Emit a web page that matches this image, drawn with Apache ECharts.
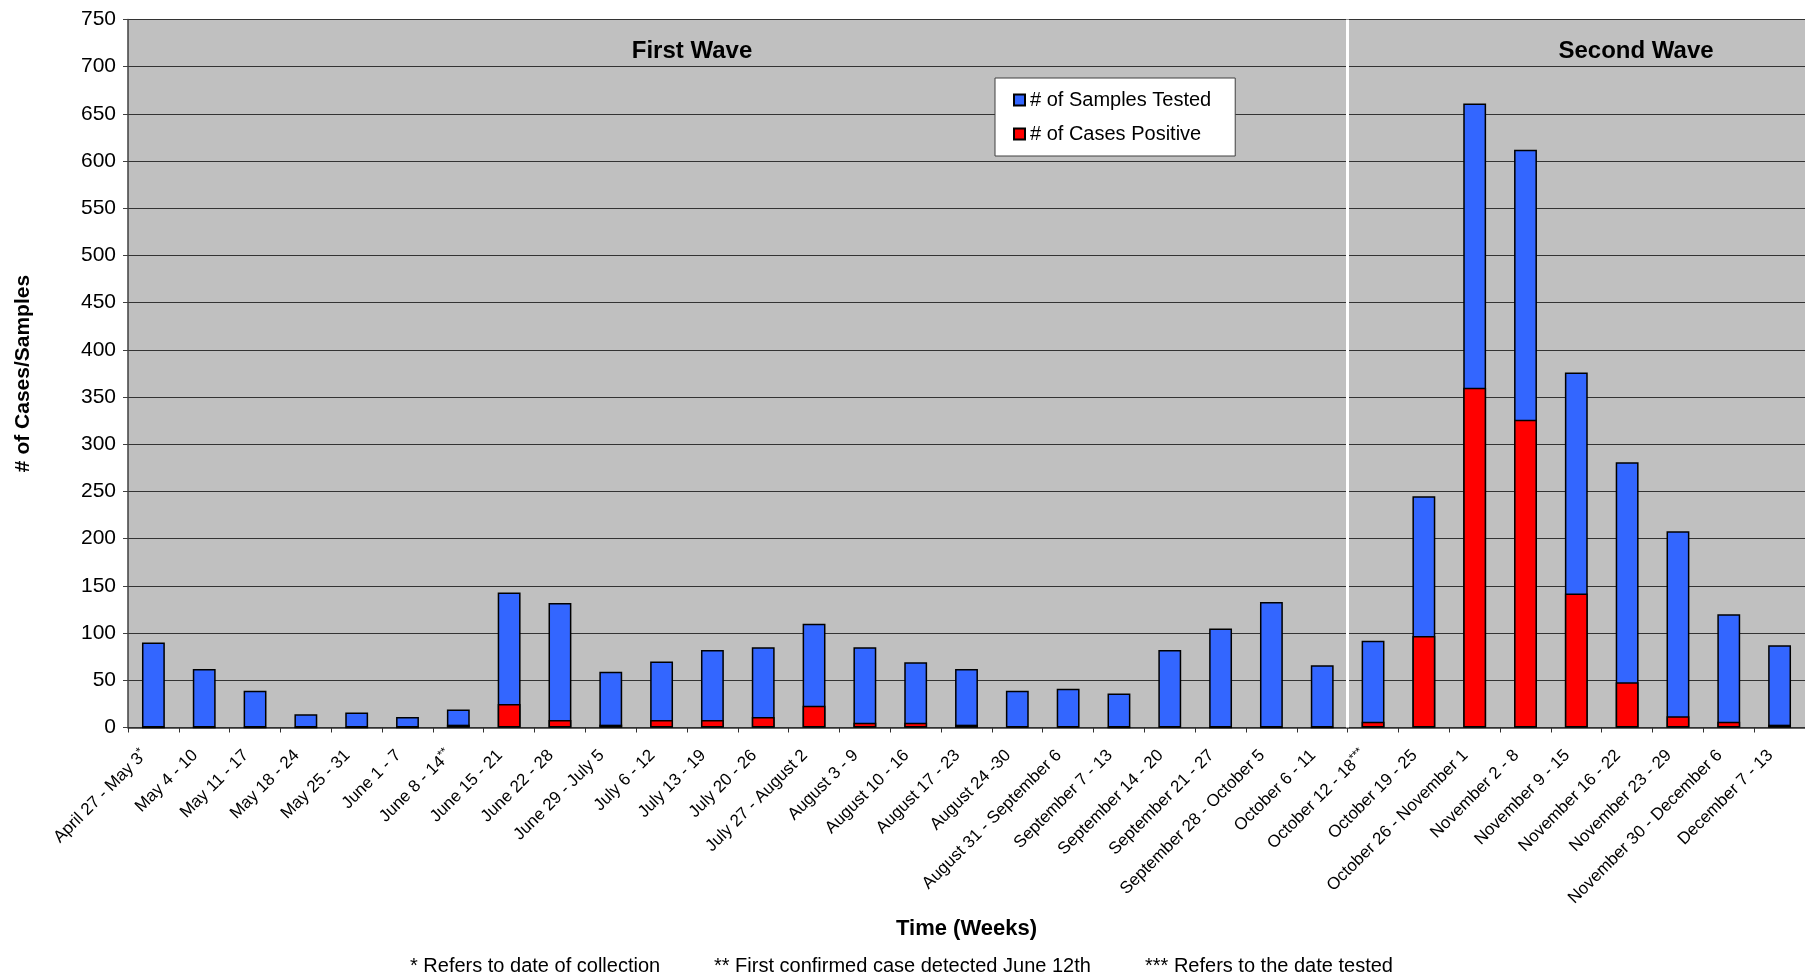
<!DOCTYPE html>
<html>
<head>
<meta charset="utf-8">
<script src="https://cdn.jsdelivr.net/npm/echarts@6/dist/echarts.min.js"></script>
<style>
  html, body { margin: 0; padding: 0; background: #ffffff; }
  #chart { width: 1805px; height: 980px; }
</style>
</head>
<body>
<div id="chart"></div>
<script>
// Weekly collection periods
const weeks = [
  'April 27 - May 3*', 'May 4 - 10', 'May 11 - 17', 'May 18 - 24', 'May 25 - 31',
  'June 1 - 7', 'June 8 - 14**', 'June 15 - 21', 'June 22 - 28', 'June 29 - July 5',
  'July 6 - 12', 'July 13 - 19', 'July 20 - 26', 'July 27 - August 2', 'August 3 - 9',
  'August 10 - 16', 'August 17 - 23', 'August 24 -30', 'August 31 - September 6',
  'September 7 - 13', 'September 14 - 20', 'September 21 - 27', 'September 28 - October 5',
  'October 6 - 11', 'October 12 - 18***', 'October 19 - 25', 'October 26 - November 1',
  'November 2 - 8', 'November 9 - 15', 'November 16 - 22', 'November 23 - 29',
  'November 30 - December 6', 'December 7 - 13'
];

// # of Samples Tested per week
const samplesTested = [
  90, 62, 39, 14, 16, 11, 19, 143, 132, 59,
  70, 82, 85, 110, 85, 69, 62, 39, 41, 36,
  82, 105, 133, 66, 92, 245, 661, 612, 376, 281,
  208, 120, 87
];

// # of Cases Positive per week
const casesPositive = [
  0, 0, 0, 0, 0, 0, 3, 25, 8, 3,
  8, 8, 11, 23, 5, 5, 3, 1, 1, 0,
  1, 0, 0, 0, 6, 97, 360, 326, 142, 48,
  12, 6, 3
];

// Value axis range
const yMin = 0;
const yMax = 750;
const yStep = 50;

// First week of the second wave
const secondWaveStart = 24;

const waveTitles = ['First Wave', 'Second Wave'];
const footnotes = [
  '* Refers to date of collection',
  '** First confirmed case detected June 12th',
  '*** Refers to the date tested'
];

const FONT = '"Liberation Sans", Arial, sans-serif';

// Trailing asterisks on a week label are set as small raised marks
function weekLabel(value) {
  const m = /^(.*?)(\*+)$/.exec(value);
  return m ? '{a|' + m[1] + '}{s|' + m[2] + '}' : '{a|' + value + '}';
}

const chart = echarts.init(document.getElementById('chart'), null, { renderer: 'canvas' });

chart.setOption({
  backgroundColor: '#ffffff',
  animation: false,
  textStyle: { fontFamily: FONT, color: '#000' },
  grid: {
    left: 128, right: 0, top: 19.5, bottom: 252.5,
    show: true, backgroundColor: '#c0c0c0', borderWidth: 0
  },
  legend: {
    data: ['# of Samples Tested', '# of Cases Positive'],
    orient: 'vertical',
    left: 995, top: 78,
    width: 237,
    backgroundColor: '#ffffff',
    borderColor: '#404040', borderWidth: 1,
    padding: [12, 24, 12, 18],
    itemGap: 14,
    itemWidth: 11, itemHeight: 11,
    icon: 'rect',
    textStyle: { fontFamily: FONT, fontSize: 20, color: '#000' }
  },
  xAxis: [
    {
      type: 'category',
      data: weeks,
      boundaryGap: true,
      axisLine: { show: true, lineStyle: { color: '#303030', width: 1.5 } },
      axisTick: { show: true, interval: 0, length: 5, lineStyle: { color: '#303030' } },
      axisLabel: {
        interval: 0, rotate: 45, margin: 16,
        padding: [0, 13, 0, 0],
        fontFamily: FONT, fontSize: 17, color: '#000',
        formatter: weekLabel,
        rich: {
          a: { fontFamily: FONT, fontSize: 17, color: '#000', lineHeight: 20 },
          s: { fontFamily: FONT, fontSize: 12, color: '#000', verticalAlign: 'top', lineHeight: 20 }
        }
      },
      name: 'Time (Weeks)',
      nameLocation: 'middle',
      nameGap: 190,
      nameTextStyle: { fontFamily: FONT, fontSize: 22, fontWeight: 'bold', color: '#000' }
    },
    {
      // Continuous companion scale for drawing the wave divider on a week boundary
      type: 'value', min: 0, max: weeks.length, show: false
    }
  ],
  yAxis: {
    type: 'value',
    min: yMin, max: yMax, interval: yStep,
    axisLine: { show: true, lineStyle: { color: '#404040', width: 1.5 } },
    axisTick: { show: true, length: 5, lineStyle: { color: '#404040' } },
    axisLabel: { fontFamily: FONT, fontSize: 21, color: '#000', margin: 12 },
    splitLine: { show: true, lineStyle: { color: '#333333', width: 1.2 } },
    name: '# of Cases/Samples',
    nameLocation: 'middle',
    nameGap: 94,
    nameRotate: 90,
    nameTextStyle: { fontFamily: FONT, fontSize: 21, fontWeight: 'bold', color: '#000' }
  },
  series: [
    {
      name: '# of Samples Tested',
      type: 'bar',
      data: samplesTested,
      barWidth: '45%',
      barGap: '-100%',
      itemStyle: { color: '#3366ff', borderColor: '#000', borderWidth: 1.5 },
      z: 2
    },
    {
      name: '# of Cases Positive',
      type: 'bar',
      data: casesPositive,
      barWidth: '45%',
      barGap: '-100%',
      itemStyle: { color: '#ff0000', borderColor: '#000', borderWidth: 1.5 },
      z: 3
    },
    {
      name: 'divider',
      type: 'line',
      xAxisIndex: 1,
      data: [],
      silent: true,
      markLine: {
        silent: true,
        symbol: ['none', 'none'],
        label: { show: false },
        lineStyle: { color: '#ffffff', width: 3, type: 'solid' },
        data: [{ xAxis: secondWaveStart }]
      }
    }
  ],
  graphic: [
    {
      type: 'text', x: 692, y: 51, z: 10,
      style: { text: waveTitles[0], fontFamily: FONT, fontSize: 24, fontWeight: 'bold',
               fill: '#000', align: 'center', verticalAlign: 'middle' }
    },
    {
      type: 'text', x: 1636, y: 51, z: 10,
      style: { text: waveTitles[1], fontFamily: FONT, fontSize: 24, fontWeight: 'bold',
               fill: '#000', align: 'center', verticalAlign: 'middle' }
    },
    {
      type: 'text', x: 410, y: 966,
      style: { text: footnotes[0], fontFamily: FONT, fontSize: 20, fill: '#000', verticalAlign: 'middle' }
    },
    {
      type: 'text', x: 714, y: 966,
      style: { text: footnotes[1], fontFamily: FONT, fontSize: 20, fill: '#000', verticalAlign: 'middle' }
    },
    {
      type: 'text', x: 1145, y: 966,
      style: { text: footnotes[2], fontFamily: FONT, fontSize: 20, fill: '#000', verticalAlign: 'middle' }
    }
  ]
});
</script>
</body>
</html>
